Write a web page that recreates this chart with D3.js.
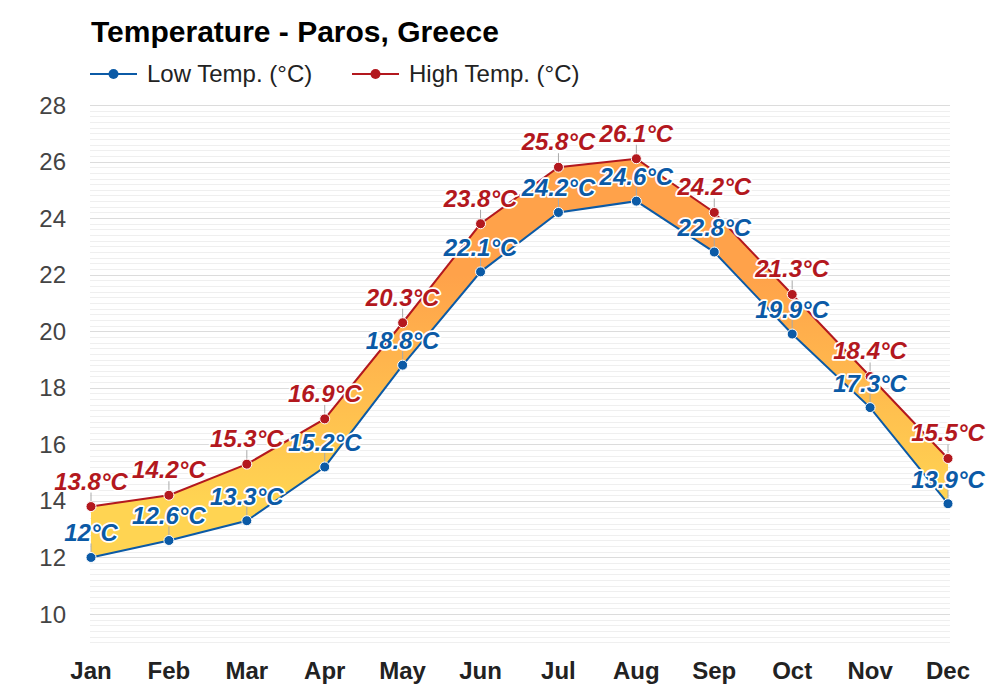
<!DOCTYPE html>
<html><head><meta charset="utf-8">
<script src="https://cdn.jsdelivr.net/npm/d3@7"></script>
<style>
body{margin:0;background:#fff;}
svg{font-family:"Liberation Sans",Arial,sans-serif;}
</style></head>
<body><svg id="c" width="1000" height="700"></svg>
<script>
const months = ["Jan","Feb","Mar","Apr","May","Jun","Jul","Aug","Sep","Oct","Nov","Dec"];
const lowTemps = [12.0,12.6,13.3,15.2,18.8,22.1,24.2,24.6,22.8,19.9,17.3,13.9];
const highTemps = [13.8,14.2,15.3,16.9,20.3,23.8,25.8,26.1,24.2,21.3,18.4,15.5];
const yTicks = [10,12,14,16,18,20,22,24,26,28];
const title = "Temperature - Paros, Greece";
const seriesNames = ["Low Temp. (°C)","High Temp. (°C)"];

const lowColor = "#0b5aa6", highColor = "#b3181e";
const svg = d3.select("#c");
const x = d3.scalePoint().domain(months).range([91,948]);
const y = d3.scaleLinear().domain([9,28]).range([642.3,105]);

// gradient
const defs = svg.append("defs");
const g = defs.append("linearGradient").attr("id","fillg").attr("gradientUnits","userSpaceOnUse")
  .attr("x1",0).attr("x2",0).attr("y1",y(14)).attr("y2",y(22));
g.append("stop").attr("offset",0).attr("stop-color","#ffd452");
g.append("stop").attr("offset",1).attr("stop-color","#ffa24a");

// grid
const minor = d3.range(9,28.001,0.2).map(v=>+v.toFixed(1));
svg.append("g").selectAll("line").data(minor.filter(v=>Math.abs(v%2)>0.01 && Math.abs(v%2-2)>0.01)).join("line")
  .attr("x1",90).attr("x2",950).attr("y1",d=>Math.round(y(d))+0.5).attr("y2",d=>Math.round(y(d))+0.5)
  .attr("stroke","#efefef").attr("stroke-width",1);
svg.append("g").selectAll("line").data(yTicks).join("line")
  .attr("x1",90).attr("x2",950).attr("y1",d=>Math.round(y(d))+0.5).attr("y2",d=>Math.round(y(d))+0.5)
  .attr("stroke","#dcdcdc").attr("stroke-width",1);

// y labels
svg.append("g").selectAll("text").data(yTicks).join("text")
  .attr("x",66).attr("y",d=>y(d)+8.5).attr("text-anchor","end")
  .attr("font-size",24).attr("fill","#444").text(d=>d);

// x labels
svg.append("g").selectAll("text").data(months).join("text")
  .attr("x",d=>x(d)).attr("y",679).attr("text-anchor","middle")
  .attr("font-size",24).attr("font-weight","bold").attr("fill","#222").text(d=>d);

// area
const idx = d3.range(months.length);
svg.append("path").datum(idx)
  .attr("d",d3.area().x(i=>x(months[i])).y0(i=>y(lowTemps[i])).y1(i=>y(highTemps[i])))
  .attr("fill","url(#fillg)");

// lines
function line(vals,color){
  svg.append("path").datum(idx)
    .attr("d",d3.line().x(i=>x(months[i])).y(i=>y(vals[i])))
    .attr("fill","none").attr("stroke",color).attr("stroke-width",2);
}
line(lowTemps,lowColor); line(highTemps,highColor);

// label ticks
function ticks(vals){
  svg.append("g").selectAll("line").data(idx).join("line")
    .attr("x1",i=>x(months[i])).attr("x2",i=>x(months[i]))
    .attr("y1",i=>y(vals[i])).attr("y2",i=>y(vals[i])-14)
    .attr("stroke","#aaa").attr("stroke-width",1);
}
ticks(lowTemps); ticks(highTemps);

// dots
function dots(vals,color){
  svg.append("g").selectAll("circle").data(idx).join("circle")
    .attr("cx",i=>x(months[i])).attr("cy",i=>y(vals[i])).attr("r",5)
    .attr("fill",color).attr("stroke","#fff").attr("stroke-width",1);
}
dots(lowTemps,lowColor); dots(highTemps,highColor);

// labels
const fmt = v => (Math.round(v*10)/10).toString() + "°C";
function labels(vals,color,off){
  svg.append("g").selectAll("text").data(idx).join("text")
    .attr("x",i=>x(months[i])).attr("y",i=>y(vals[i])-off)
    .attr("text-anchor","middle").attr("font-size",24).attr("font-weight","bold").attr("font-style","italic")
    .attr("fill",color).attr("stroke","#fff").attr("stroke-width",3.5).attr("paint-order","stroke")
    .attr("stroke-linejoin","round").text(i=>fmt(vals[i]));
}
labels(lowTemps,lowColor,16); labels(highTemps,highColor,17);

// title
svg.append("text").attr("x",91).attr("y",42).attr("font-size",30).attr("font-weight","bold")
  .attr("fill","#000").text(title);

// legend
const leg = [{n:seriesNames[0],c:lowColor,x:90},{n:seriesNames[1],c:highColor,x:352}];
leg.forEach(l=>{
  svg.append("line").attr("x1",l.x).attr("x2",l.x+47).attr("y1",74).attr("y2",74).attr("stroke",l.c).attr("stroke-width",2);
  svg.append("circle").attr("cx",l.x+23.5).attr("cy",74).attr("r",5).attr("fill",l.c);
  svg.append("text").attr("x",l.x+57).attr("y",82).attr("font-size",24).attr("fill","#222").text(l.n);
});
</script></body></html>
